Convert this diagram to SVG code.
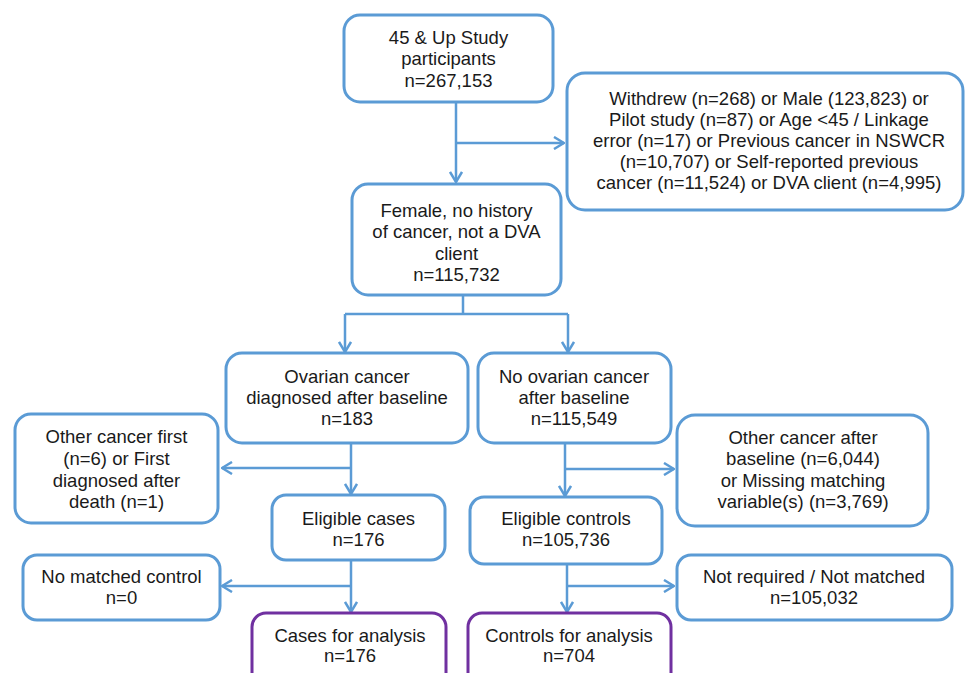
<svg xmlns="http://www.w3.org/2000/svg" width="968" height="673" viewBox="0 0 968 673">
<defs>
<style>
.box{fill:#fff;stroke:#5B9BD5;stroke-width:3}
.pbox{fill:#fff;stroke:#7030A0;stroke-width:3}
.t{font-family:"Liberation Sans",Arial,sans-serif;font-size:18.5px;fill:#1a1a1a;text-anchor:middle}
.c{fill:none;stroke:#5B9BD5;stroke-width:2.5}
</style>
<marker id="arr" viewBox="0 0 12 14" refX="11" refY="7" markerWidth="12" markerHeight="14" markerUnits="userSpaceOnUse" orient="auto">
<path d="M1,1 L11,7 L1,13" fill="none" stroke="#5B9BD5" stroke-width="2.5"/>
</marker>
</defs>
<rect width="968" height="673" fill="#fff"/>
<g id="connectors">
<path class="c" d="M456,102 V182" marker-end="url(#arr)"/>
<path class="c" d="M456,143 H564" marker-end="url(#arr)"/>
<path class="c" d="M463,295 V314"/>
<path class="c" d="M345,314 H568"/>
<path class="c" d="M345,314 V352" marker-end="url(#arr)"/>
<path class="c" d="M568,314 V352" marker-end="url(#arr)"/>
<path class="c" d="M351,443 V494" marker-end="url(#arr)"/>
<path class="c" d="M351,468 H222" marker-end="url(#arr)"/>
<path class="c" d="M565,443 V496" marker-end="url(#arr)"/>
<path class="c" d="M565,469 H674" marker-end="url(#arr)"/>
<path class="c" d="M351,560 V612" marker-end="url(#arr)"/>
<path class="c" d="M351,586 H222" marker-end="url(#arr)"/>
<path class="c" d="M567,564 V612" marker-end="url(#arr)"/>
<path class="c" d="M567,586 H674" marker-end="url(#arr)"/>
</g>
<g id="n1">
<rect class="box" x="344" y="15" width="209" height="87" rx="16"/>
<text class="t" x="448.5" y="43.5">45 &amp; Up Study</text>
<text class="t" x="448.5" y="65">participants</text>
<text class="t" x="448.5" y="86.5">n=267,153</text>
</g>
<g id="n2">
<rect class="box" x="567" y="73" width="396" height="137" rx="18"/>
<text class="t" x="769" y="105">Withdrew (n=268) or Male (123,823) or</text>
<text class="t" x="769" y="126">Pilot study (n=87) or Age &lt;45 / Linkage</text>
<text class="t" x="769" y="147">error (n=17) or Previous cancer in NSWCR</text>
<text class="t" x="769" y="167.5">(n=10,707) or Self-reported previous</text>
<text class="t" x="769" y="188.5">cancer (n=11,524) or DVA client (n=4,995)</text>
</g>
<g id="n3">
<rect class="box" x="352" y="184" width="209" height="111" rx="16"/>
<text class="t" x="456.5" y="216.5">Female, no history</text>
<text class="t" x="456.5" y="238">of cancer, not a DVA</text>
<text class="t" x="456.5" y="259.5">client</text>
<text class="t" x="456.5" y="281">n=115,732</text>
</g>
<g id="n4">
<rect class="box" x="226" y="353" width="242" height="90" rx="16"/>
<text class="t" x="347" y="383">Ovarian cancer</text>
<text class="t" x="347" y="404">diagnosed after baseline</text>
<text class="t" x="347" y="425">n=183</text>
</g>
<g id="n5">
<rect class="box" x="478" y="353" width="193" height="90" rx="16"/>
<text class="t" x="574" y="383">No ovarian cancer</text>
<text class="t" x="574" y="404">after baseline</text>
<text class="t" x="574" y="425">n=115,549</text>
</g>
<g id="n6">
<rect class="box" x="15" y="414" width="203" height="109" rx="16"/>
<text class="t" x="116.5" y="443">Other cancer first</text>
<text class="t" x="116.5" y="465">(n=6) or First</text>
<text class="t" x="116.5" y="487">diagnosed after</text>
<text class="t" x="116.5" y="508">death (n=1)</text>
</g>
<g id="n7">
<rect class="box" x="272" y="495" width="173" height="65" rx="14"/>
<text class="t" x="358.5" y="525">Eligible cases</text>
<text class="t" x="358.5" y="545.5">n=176</text>
</g>
<g id="n8">
<rect class="box" x="677" y="415" width="251" height="111" rx="18"/>
<text class="t" x="803" y="444">Other cancer after</text>
<text class="t" x="803" y="465">baseline (n=6,044)</text>
<text class="t" x="803" y="487">or Missing matching</text>
<text class="t" x="803" y="508">variable(s) (n=3,769)</text>
</g>
<g id="n9">
<rect class="box" x="470" y="497" width="192" height="67" rx="14"/>
<text class="t" x="566" y="525">Eligible controls</text>
<text class="t" x="566" y="546">n=105,736</text>
</g>
<g id="n10">
<rect class="box" x="23" y="555" width="197" height="65" rx="14"/>
<text class="t" x="121.5" y="583">No matched control</text>
<text class="t" x="121.5" y="604">n=0</text>
</g>
<g id="n11">
<rect class="box" x="677" y="555" width="275" height="65" rx="14"/>
<text class="t" x="814" y="583">Not required / Not matched</text>
<text class="t" x="814" y="603.5">n=105,032</text>
</g>
<g id="n12">
<rect class="pbox" x="252" y="613" width="194" height="75" rx="14"/>
<text class="t" x="350" y="642">Cases for analysis</text>
<text class="t" x="350" y="662">n=176</text>
</g>
<g id="n13">
<rect class="pbox" x="468" y="613" width="203" height="75" rx="14"/>
<text class="t" x="569" y="642">Controls for analysis</text>
<text class="t" x="569" y="662">n=704</text>
</g>
</svg>
